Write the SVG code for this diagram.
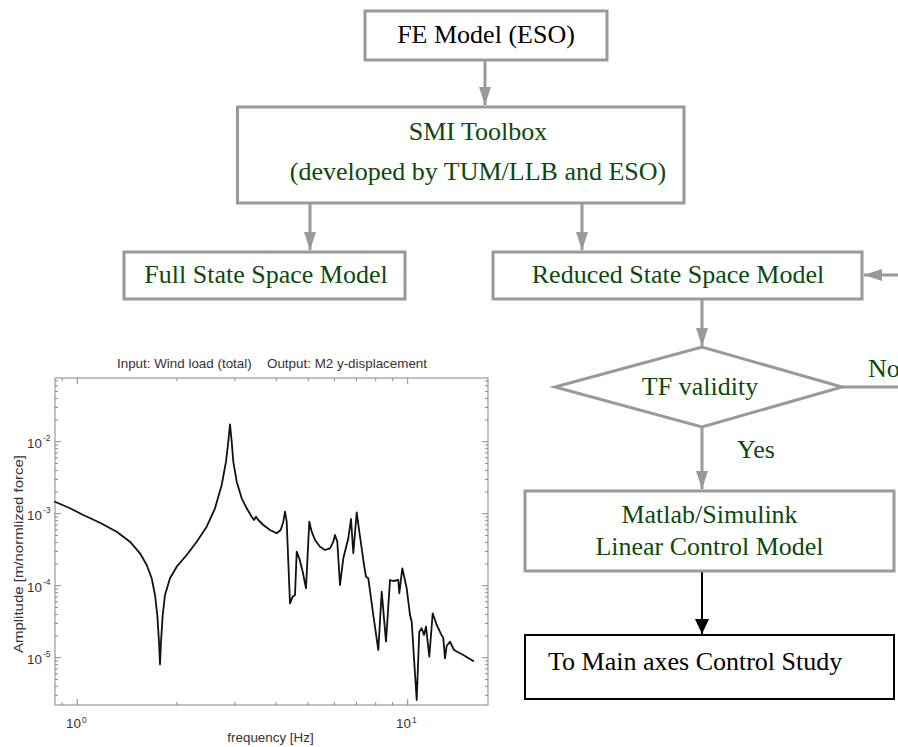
<svg xmlns="http://www.w3.org/2000/svg" width="898" height="747" viewBox="0 0 898 747">
<style>
.box{fill:#fff;stroke:#999;stroke-width:3}
.bbox{fill:#fff;stroke:#000;stroke-width:2}
.t{font-family:"Liberation Serif","Times New Roman",serif;font-size:26px;fill:#0c4a0c}
.tk{font-family:"Liberation Serif","Times New Roman",serif;font-size:26px;fill:#000}
.c{stroke:#999;stroke-width:3;fill:none}
.cb{stroke:#000;stroke-width:2;fill:none}
.p{font-family:"Liberation Sans",Arial,sans-serif;font-size:13.4px;fill:#333}
.sup{font-family:"Liberation Sans",Arial,sans-serif;font-size:8.5px;fill:#333}
.ax{stroke:#999;stroke-width:1.2;fill:none}
.tick{stroke:#888;stroke-width:1;fill:none}
</style>
<defs>
<marker id="ag" markerUnits="userSpaceOnUse" markerWidth="20" markerHeight="14" refX="18" refY="6" orient="auto">
<path d="M0,0 L18,6 L0,12 z" fill="#999"/>
</marker>
<marker id="ab" markerUnits="userSpaceOnUse" markerWidth="17" markerHeight="16" refX="15" refY="7" orient="auto">
<path d="M0,0 L15,7 L0,14 z" fill="#000"/>
</marker>
</defs>

<g id="connectors">
<line class="c" x1="485" y1="60" x2="485" y2="105" marker-end="url(#ag)"/>
<line class="c" x1="310" y1="203" x2="310" y2="250" marker-end="url(#ag)"/>
<line class="c" x1="582" y1="203" x2="582" y2="250" marker-end="url(#ag)"/>
<line class="c" x1="898" y1="275" x2="864" y2="275" marker-end="url(#ag)"/>
<line class="c" x1="702" y1="299" x2="702" y2="346" marker-end="url(#ag)"/>
<line class="c" x1="842" y1="387" x2="898" y2="387"/>
<line class="c" x1="702" y1="427" x2="702" y2="489" marker-end="url(#ag)"/>
<line class="cb" x1="702" y1="571" x2="702" y2="634" marker-end="url(#ab)"/>
<text class="t" x="868" y="377">No</text>
<text class="t" x="737" y="458">Yes</text>
</g>

<g id="fe-model">
<rect class="box" x="365" y="11" width="242" height="49"/>
<text class="tk" x="486" y="43" text-anchor="middle">FE Model (ESO)</text>
</g>

<g id="smi-toolbox">
<rect class="box" x="237.5" y="107" width="446.5" height="96"/>
<text class="t" x="478" y="140" text-anchor="middle">SMI Toolbox</text>
<text class="t" x="478" y="180" text-anchor="middle">(developed by TUM/LLB and ESO)</text>
</g>

<g id="full-ss">
<rect class="box" x="124" y="252" width="281" height="47"/>
<text class="t" x="266" y="283" text-anchor="middle">Full State Space Model</text>
</g>

<g id="reduced-ss">
<rect class="box" x="493" y="252" width="369" height="47"/>
<text class="t" x="678" y="283" text-anchor="middle">Reduced State Space Model</text>
</g>

<g id="tf-validity">
<polygon class="box" points="555,387 702,347 842,387 702,427"/>
<text class="t" x="700" y="395" text-anchor="middle">TF validity</text>
</g>

<g id="matlab">
<rect class="box" x="525" y="491" width="369" height="80"/>
<text class="t" x="709.5" y="523" text-anchor="middle">Matlab/Simulink</text>
<text class="t" x="709.5" y="555" text-anchor="middle">Linear Control Model</text>
</g>

<g id="main-axes">
<rect class="bbox" x="525" y="635" width="369" height="64"/>
<text class="tk" x="548" y="670">To Main axes Control Study</text>
</g>

<g id="plot">
<text class="p" x="117" y="368">Input: Wind load (total)</text>
<text class="p" x="267" y="368">Output: M2 y-displacement</text>
<rect class="ax" x="55" y="378" width="433" height="327"/>
<path class="tick" d="M55,441.7h6M55,513.7h6M55,585.7h6M55,657.7h6M488,441.7h-6M488,513.7h-6M488,585.7h-6M488,657.7h-6
M55,420h3M55,407.4h3M55,398.4h3M55,391.4h3M55,385.7h3M55,380.9h3
M55,492h3M55,479.4h3M55,470.4h3M55,463.4h3M55,457.7h3M55,452.9h3M55,448.7h3M55,445h3
M55,564h3M55,551.4h3M55,542.4h3M55,535.4h3M55,529.7h3M55,524.9h3M55,520.7h3M55,517h3
M55,636h3M55,623.4h3M55,614.4h3M55,607.4h3M55,601.7h3M55,596.9h3M55,592.7h3M55,589h3
M55,695.3h3M55,686.3h3M55,679.4h3M55,673.7h3M55,668.9h3M55,664.7h3M55,661h3
M488,420h-3M488,407.4h-3M488,398.4h-3M488,391.4h-3M488,385.7h-3M488,380.9h-3
M488,492h-3M488,479.4h-3M488,470.4h-3M488,463.4h-3M488,457.7h-3M488,452.9h-3M488,448.7h-3M488,445h-3
M488,564h-3M488,551.4h-3M488,542.4h-3M488,535.4h-3M488,529.7h-3M488,524.9h-3M488,520.7h-3M488,517h-3
M488,636h-3M488,623.4h-3M488,614.4h-3M488,607.4h-3M488,601.7h-3M488,596.9h-3M488,592.7h-3M488,589h-3
M488,695.3h-3M488,686.3h-3M488,679.4h-3M488,673.7h-3M488,668.9h-3M488,664.7h-3M488,661h-3
M77.3,705v-6M407.7,705v-6M77.3,378v6M407.7,378v6
M62.2,705v-3M176.8,705v-3M234.9,705v-3M276.2,705v-3M308.2,705v-3M334.4,705v-3M356.5,705v-3M375.7,705v-3M392.6,705v-3
M62.2,378v3M176.8,378v3M234.9,378v3M276.2,378v3M308.2,378v3M334.4,378v3M356.5,378v3M375.7,378v3M392.6,378v3"/>
<text class="p" x="42" y="448" text-anchor="end">10</text><text class="sup" x="43" y="441">-2</text>
<text class="p" x="42" y="520" text-anchor="end">10</text><text class="sup" x="43" y="513">-3</text>
<text class="p" x="42" y="592" text-anchor="end">10</text><text class="sup" x="43" y="585">-4</text>
<text class="p" x="42" y="664" text-anchor="end">10</text><text class="sup" x="43" y="657">-5</text>
<text class="p" x="81" y="727.5" text-anchor="end">10</text><text class="sup" x="82" y="722.5">0</text>
<text class="p" x="411" y="727.5" text-anchor="end">10</text><text class="sup" x="412" y="722.5">1</text>
<text class="p" x="270.5" y="742" text-anchor="middle">frequency [Hz]</text>
<text class="p" transform="translate(23,554) rotate(-90)" text-anchor="middle" textLength="198" lengthAdjust="spacingAndGlyphs">Amplitude [m/normlized force]</text>
<path fill="none" stroke="#111" stroke-width="1.8" stroke-linejoin="round" stroke-linecap="round" d="M55,501.7 L70,508.3 L83.3,515 L100,522.7 L116.7,531.7 L130,541.7 L140,553.3 L146.7,565 L151.7,578.3 L155,595 L157.3,615 L159,641.7 L160,664.3 L161,641.7 L162.7,615 L165,595 L170,578.3 L176.7,566.7 L186.7,555 L196.7,541.7 L206.7,526.7 L215,508.3 L221.7,485 L226,461.7 L228.3,441.7 L230,424.3 L231.7,441.7 L233.3,461.7 L236.7,481.7 L241.7,498.3 L246.7,508.3 L251.7,516.7 L254,520 L256,516.7 L258.3,520 L263.3,525 L270,530 L276.7,533.3 L280.7,530 L283.3,521.7 L285,511.7 L286.7,521.7 L288.3,561.7 L290,603.3 L292.7,596.7 L295,595 L296.7,551.7 L299.3,558.3 L302.7,571.7 L306,588.3 L309.3,521.7 L311.7,531.7 L315,540 L320,546.7 L325,550 L330,548.3 L333.3,541.7 L335,535 L337.3,541.7 L340,585 L343.3,558.3 L348.3,538.3 L351,519 L353.3,553.3 L356.7,512.3 L359.3,531.7 L361.7,548.3 L364,565 L366,576.7 L368.3,578.3 L373.3,615 L378.3,650 L381.7,591.7 L386,641.7 L390,580 L393.3,581 L398.3,580 L399.3,593.3 L402.3,568.3 L406.7,588.3 L410,615 L411.7,621.7 L414,658.3 L416.7,700 L419.3,631.7 L421.7,628.3 L424,635 L426,626.7 L429.3,656.7 L432.7,613.3 L436.7,625 L440.7,633.3 L443.3,638.3 L445,658.3 L446.7,645.7 L450,641.7 L454,650 L463.3,655 L473.3,661"/>
</g>
</svg>
